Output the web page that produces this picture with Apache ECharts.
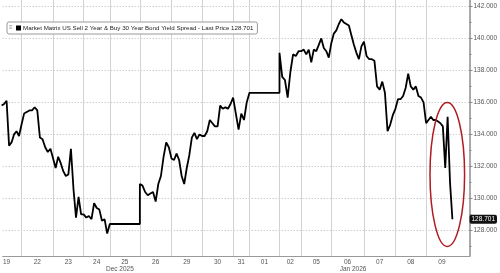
<!DOCTYPE html>
<html><head><meta charset="utf-8">
<script src="https://cdn.jsdelivr.net/npm/echarts@6/dist/echarts.min.js"></script>
<style>html,body{margin:0;padding:0;background:#fff}#c{width:500px;height:273px}</style>
</head><body><div id="c"></div>
<script>
// ---- data ----
const seriesName = 'Market Matrix US Sell 2 Year & Buy 30 Year Bond Yield Spread';
const dayLabels = ['19','22','23','24','25','26','29','30','31','01','02','05','06','07','08','09'];
// length of each trading session on the axis (hours)
const sessionHours = [23, 24.4, 23.6, 20.2, 23.2, 24.4, 23.6, 24.0, 12.6, 23.2, 16.8, 23.2, 25.2, 24.3, 23.7, 24.4];
const lastSessionElapsed = 20.3;
const monthLabels = ['Dec 2025', 'Jan 2026'];
const monthLabelHours = [99, 279];
const axisStartHour = 8.5, axisEndHour = 368.9;
const yMajorTicks = [128, 130, 132, 134, 136, 138, 140, 142];
const yMinorTicks = [127, 129, 131, 133, 135, 137, 139, 141];

const v19 = [null, null, null, null, 135.8, 135.9, 136.1, 133.3, 133.5, 134.0, 134.2, 133.9, 134.6];
const v22 = [134.6, 135.3, 135.4, 135.5, 135.5, 135.7, 135.5, 133.8, 133.7, 133.2, 132.9, 133.1, 132.5];
const v23 = [132.5, 131.9, 132.6, 132.2, 131.7, 131.4, 131.5, 133.1, 130.6, 128.8, 130.1, 129.0, 129.0];
const v24 = [129.0, 128.8, 128.9, 128.7, 129.7, 129.4, 129.3, 128.6, 128.7, 127.8, 128.4];
const v25 = [128.4, 128.4];
const v26 = [130.9, 130.8, 130.4, 130.2, 130.3, 130.4, 129.8, 130.9, 131.4, 132.6, 133.5, 133.2, 132.5];
const v29 = [132.4, 132.4, 132.8, 132.4, 131.4, 130.9, 131.9, 132.7, 133.8, 134.1, 133.7, 134.0, 133.9];
const v30 = [133.9, 133.9, 134.2, 134.9, 134.7, 134.5, 134.5, 135.8, 135.6, 135.7, 135.6, 135.9, 136.3];
const v31 = [136.3, 135.3, 134.3, 135.3, 134.9, 136.0, 136.6];
const v01 = [136.6, 136.6];
const v02 = [139.1, 137.6, 137.4, 136.3, 137.9, 139.0, 138.9, 139.2, 139.2];
const v05 = [139.2, 139.3, 139.0, 139.3, 138.5, 139.3, 139.2, 139.6, 140.0, 139.4, 139.2, 138.8, 139.7];
const v06 = [139.7, 140.3, 140.5, 140.9, 141.2, 141.0, 140.9, 140.8, 140.2, 139.6, 139.1, 138.7, 139.5, 139.8];
const v07 = [139.8, 138.9, 138.7, 138.7, 138.6, 137.0, 136.8, 137.3, 136.6, 134.2, 134.6, 135.2, 135.6];
const v08 = [135.6, 136.2, 136.2, 136.4, 136.9, 137.8, 137.0, 136.8, 137.0, 136.4, 136.3, 136.0, 134.7];
const v09 = [134.6, 134.9, 135.1, 134.9, 134.9, 134.8, 134.7, 134.5, 131.9, 135.1, 131.0, 128.701];
const dayValues = [v19, v22, v23, v24, v25, v26, v29, v30, v31, v01, v02, v05, v06, v07, v08, v09];

// annotation ellipse (axis coordinates)
const ellipseHours = [338.4, 365.1];
const ellipseValues = [127.0, 136.0];

// ---- build ----
const dayStarts = [];
let acc = 0;
sessionHours.forEach(h => { dayStarts.push(acc); acc += h; });
const dayCenters = dayStarts.map((s, i) => s + sessionHours[i] / 2);
const points = [];
dayValues.forEach((vals, d) => {
  const len = d === dayValues.length - 1 ? lastSessionElapsed : sessionHours[d];
  const n = vals.length;
  vals.forEach((v, i) => points.push([dayStarts[d] + len * i / (n - 1), v]));
});
const lastValue = v09[v09.length - 1];
const gridStarts = dayStarts.filter(s => s > axisStartHour && s < axisEndHour);

function nearestLabel(v, positions, labels) {
  let bi = 0, bd = Infinity;
  positions.forEach((p, i) => { const d = Math.abs(p - v); if (d < bd) { bd = d; bi = i; } });
  return labels[bi];
}

const FONT = 'Liberation Sans';
const chart = echarts.init(document.getElementById('c'), null, { renderer: 'canvas' });
chart.setOption({
  animation: false,
  backgroundColor: '#fff',
  color: ['#000'],
  grid: { left: 0, right: 27, top: 0, bottom: 15, containLabel: false },
  legend: {
    data: [{ name: seriesName, icon: 'rect' }],
    left: 7, top: 22,
    padding: [3, 4, 3, 9],
    itemWidth: 5, itemHeight: 5,
    borderColor: '#999', borderWidth: 1, borderRadius: 2,
    backgroundColor: '#fff',
    formatter: name => name + ' - Last Price ' + lastValue.toFixed(3),
    textStyle: { fontSize: 6.2, color: '#222', fontFamily: FONT, padding: [0, 0, 0, -3] }
  },
  xAxis: [{
    type: 'value', min: axisStartHour, max: axisEndHour, position: 'bottom',
    axisLine: { show: true, lineStyle: { color: '#999', width: 1 } },
    axisTick: { show: false, customValues: gridStarts },
    axisLabel: {
      customValues: dayCenters, margin: 3,
      formatter: v => nearestLabel(v, dayCenters, dayLabels),
      fontSize: 6.5, color: '#555', fontFamily: FONT
    },
    splitLine: { show: true, lineStyle: { color: '#d2d2d2', width: 1 } }
  }, {
    type: 'value', min: axisStartHour, max: axisEndHour, position: 'bottom',
    axisLine: { show: false }, axisTick: { show: false },
    axisLabel: {
      customValues: monthLabelHours, margin: 10,
      formatter: v => nearestLabel(v, monthLabelHours, monthLabels),
      fontSize: 6.5, color: '#555', fontFamily: FONT
    },
    splitLine: { show: false }
  }],
  yAxis: [{
    type: 'value', position: 'right', min: 126.4, max: 142.4,
    axisLine: { show: true, lineStyle: { color: '#aaa', width: 2 } },
    axisTick: { show: true, customValues: yMajorTicks, length: 3, lineStyle: { color: '#888' } },
    axisLabel: {
      customValues: yMajorTicks, margin: 4,
      formatter: v => v.toFixed(3), fontSize: 6.5, color: '#555', fontFamily: FONT
    },
    splitLine: { show: true, lineStyle: { color: '#b8b8b8', width: 1, type: [1, 2] } }
  }, {
    type: 'value', position: 'right', min: 126.4, max: 142.4,
    axisLine: { show: false },
    axisTick: { show: true, customValues: yMinorTicks, length: 2, lineStyle: { color: '#888' } },
    axisLabel: { show: false },
    splitLine: { show: false }
  }],
  series: [{
    name: seriesName, type: 'line', xAxisIndex: 0, yAxisIndex: 0,
    data: points, showSymbol: false, clip: true,
    lineStyle: { color: '#000', width: 1.8 },
    itemStyle: { color: '#000' },
    markLine: {
      silent: true, symbol: 'none',
      lineStyle: { color: 'rgba(0,0,0,0)', width: 0 },
      data: [{ yAxis: lastValue }],
      label: {
        show: true, position: 'end', distance: 0,
        formatter: () => lastValue.toFixed(3),
        backgroundColor: '#111', color: '#fff', borderRadius: 2,
        padding: [1, 2, 1, 2], fontSize: 6.5, fontFamily: FONT
      }
    }
  }]
});

const p0 = chart.convertToPixel({ xAxisIndex: 0, yAxisIndex: 0 }, [ellipseHours[0], ellipseValues[1]]);
const p1 = chart.convertToPixel({ xAxisIndex: 0, yAxisIndex: 0 }, [ellipseHours[1], ellipseValues[0]]);
chart.setOption({
  graphic: [{
    type: 'ellipse', silent: true, z: 100,
    shape: { cx: (p0[0] + p1[0]) / 2, cy: (p0[1] + p1[1]) / 2, rx: Math.abs(p1[0] - p0[0]) / 2, ry: Math.abs(p1[1] - p0[1]) / 2 },
    style: { fill: 'none', stroke: '#b01c22', lineWidth: 1.5 }
  }, {
    type: 'text', silent: true, z: 100, left: 9, top: 24,
    style: { text: '≡', fontSize: 6, fill: '#888', fontFamily: FONT }
  }]
});
</script>
</body></html>
